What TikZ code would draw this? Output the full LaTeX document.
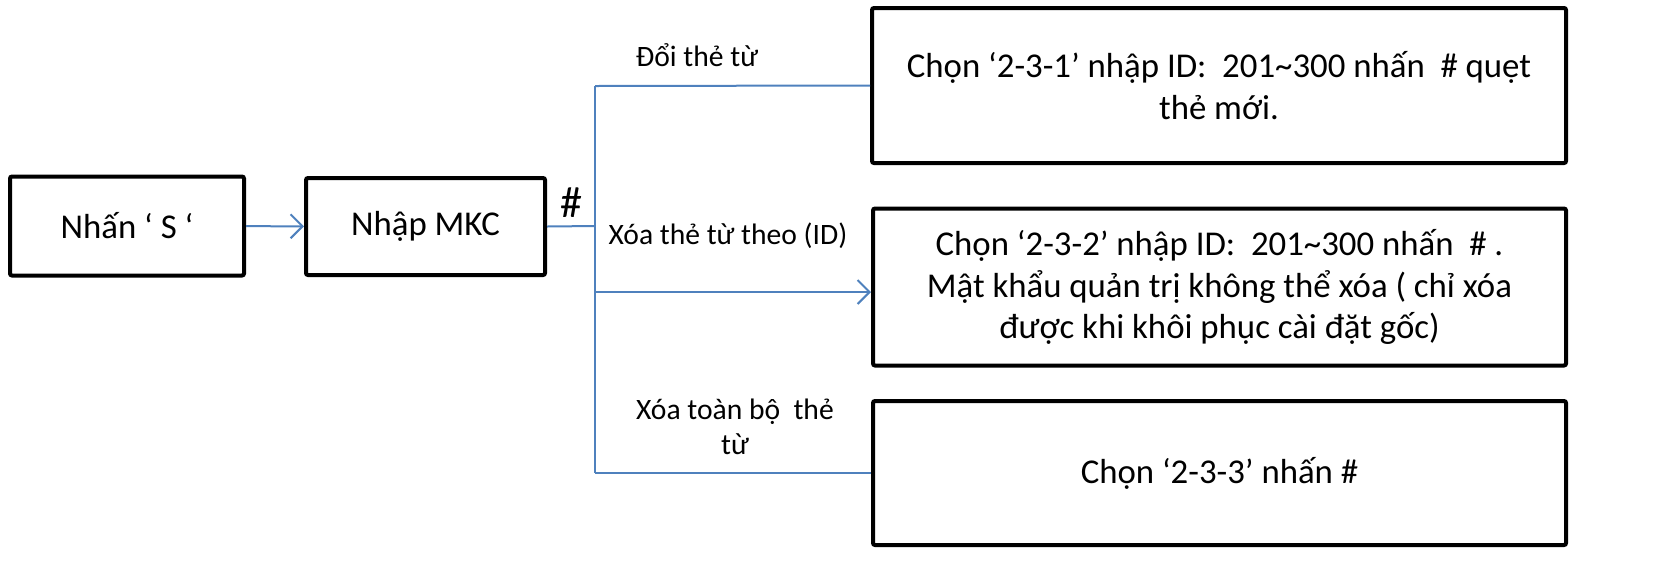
\documentclass[tikz,border=0pt]{standalone}
\usepackage{fontspec}
\setmainfont{Carlito}
\usetikzlibrary{arrows.meta}
\definecolor{linkblue}{RGB}{79,129,189}
\tikzset{stepbox/.style={draw,line width=2pt,rounded corners=1pt,align=center,inner sep=0pt,font=\fontsize{17.4}{20.7}\selectfont},
    link/.style={draw=linkblue,line width=1pt},
    linkarrow/.style={link,-{Straight Barb[length=6pt,width=12pt,line width=1pt]}},
    choice/.style={align=center,font=\fontsize{14.8}{17.5}\selectfont}}

\begin{document}
\begin{tikzpicture}[x=0.5pt,y=-0.5pt]
\useasboundingbox (0,0) rectangle (1666,580);
\node[stepbox,minimum width=117pt,minimum height=49.5pt] (press) at (127,226) {Nhấn ‘ S ‘};
\node[stepbox,minimum width=119.5pt,minimum height=48.5pt] (mkc) at (425.5,226.5) {Nhập MKC};
\node[stepbox,minimum width=347pt,minimum height=77.5pt] (change) at (1219,85.5)
    {Chọn ‘2-3-1’ nhập ID:\ \ 201\textasciitilde300 nhấn\ \ \# quẹt\\thẻ mới.};
\node[stepbox,minimum width=346.5pt,minimum height=78.5pt] (delone) at (1219.5,287)
    {Chọn ‘2-3-2’ nhập ID:\ \ 201\textasciitilde300 nhấn\ \ \# .\\Mật khẩu quản trị không thể xóa ( chỉ xóa\\được khi khôi phục cài đặt gốc)};
\node[stepbox,minimum width=346.5pt,minimum height=72pt] (delall) at (1219.5,473) {Chọn ‘2-3-3’ nhấn \#};
% branch points
\coordinate (fork) at (595,226);
\coordinate (forktop) at (595,86);
\coordinate (forkmid) at (595,292);
\coordinate (forkbot) at (595,473);
\draw[linkarrow] (press) -- (mkc);
\draw[link] (mkc.east) -- (fork);
\draw[link] (forktop) -- (forkbot);
\draw[link] (forktop) -- (change.west);
\draw[linkarrow] (forkmid) -- (forkmid -| delone.west);
\draw[link] (forkbot) -- (delall.west);
\node[font=\fontsize{22}{26}\selectfont] (hash) at (571,203) {\#};
\node[choice] (lchange) at (697,55) {Đổi thẻ từ};
\node[choice] (ldelone) at (728,236) {Xóa thẻ từ theo (ID)};
\node[choice] (ldelall) at (735,427) {Xóa toàn bộ\ \ thẻ\\từ};
\end{tikzpicture}
\end{document}
